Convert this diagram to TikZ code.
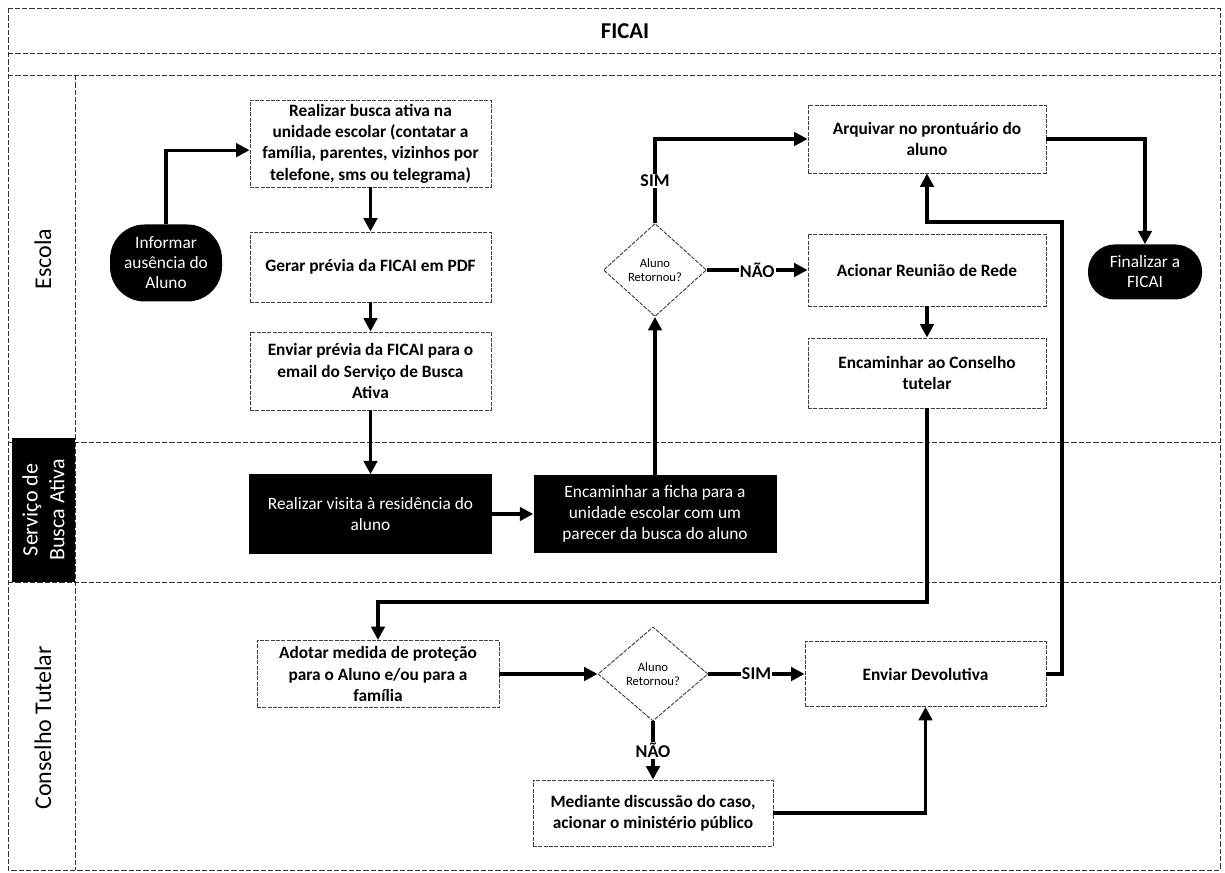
\documentclass[tikz,border=0pt]{standalone}
\usepackage{fontspec}
\setmainfont{Carlito}
\usetikzlibrary{shapes.geometric,arrows.meta,calc}
\begin{document}
\begin{tikzpicture}[x=0.75pt,y=-0.75pt,
  lane/.style={draw=black!80, line width=0.7pt, dash pattern=on 4pt off 1.5pt},
  box/.style={draw=black!75, line width=0.7pt, dash pattern=on 3pt off 1pt, fill=white, align=center, inner sep=0.5pt, font=\bfseries\fontsize{13}{16}\selectfont},
  blackbox/.style={fill=black, text=white, align=center, inner sep=1pt, font=\fontsize{13}{16}\selectfont},
  term/.style={rectangle, fill=black, text=white, align=center, inner sep=0pt, font=\fontsize{13}{15}\selectfont},
  decision/.style={diamond, draw=black!75, line width=0.7pt, dash pattern=on 3pt off 1pt, fill=white, align=center, inner sep=0pt, font=\fontsize{9.5}{11}\selectfont},
  flow/.style={line width=2.4pt, -{Triangle[length=10pt,width=10pt]}},
  lbl/.style={fill=white, inner sep=1pt, font=\bfseries\fontsize{13.5}{15}\selectfont},
  lanelabel/.style={rotate=90, align=center, font=\fontsize{18}{21}\selectfont}
]
\useasboundingbox (0,0) rectangle (1225,873);

% frame and lanes
\draw[lane] (8,8) rectangle (1220,870);
\draw[lane] (8,53) -- (1220,53);
\draw[lane] (8,75) -- (1220,75);
\draw[lane] (8,442) -- (1220,442);
\draw[lane] (8,582) -- (1220,582);
\draw[lane] (75,75) -- (75,870);

\node[font=\bfseries\fontsize{17}{20}\selectfont] (title) at (625,31) {FICAI};

% lane labels
\node[lanelabel] (lescola) at (43,259) {Escola};
\node[lanelabel, fill=black, text=white, minimum width=144*0.75pt, minimum height=63*0.75pt, inner sep=0pt, font=\fontsize{16.5}{20}\selectfont] (lservico) at (43.5,510) {Serviço de\\Busca Ativa};
\node[lanelabel] (lconselho) at (43,728) {Conselho Tutelar};

% Escola
\node[term, rounded corners=26pt, minimum width=112*0.75pt, minimum height=77*0.75pt] (inf) at (166,263) {Informar\\ausência do\\Aluno};
\node[box, minimum width=241*0.75pt, minimum height=87*0.75pt] (A) at (370.5,143.5) {Realizar busca ativa na\\unidade escolar (contatar a\\família, parentes, vizinhos por\\telefone, sms ou telegrama)};
\node[box, minimum width=241*0.75pt, minimum height=70*0.75pt] (B) at (370.5,267) {Gerar prévia da FICAI em PDF};
\node[box, minimum width=241*0.75pt, minimum height=78*0.75pt] (C) at (370.5,371) {Enviar prévia da FICAI para o\\email do Serviço de Busca\\Ativa};
\node[decision, minimum width=103*0.75pt, minimum height=93*0.75pt] (F) at (655,270) {Aluno\\Retornou?};
\node[box, minimum width=238*0.75pt, minimum height=68*0.75pt] (G) at (927,139) {Arquivar no prontuário do\\aluno};
\node[box, minimum width=238*0.75pt, minimum height=72*0.75pt] (H) at (927,270) {Acionar Reunião de Rede};
\node[box, minimum width=238*0.75pt, minimum height=70*0.75pt] (I) at (927,373) {Encaminhar ao Conselho\\tutelar};
\node[term, rounded corners=20pt, minimum width=114*0.75pt, minimum height=55*0.75pt] (fin) at (1145,272) {Finalizar a\\FICAI};

% Servico de Busca Ativa
\node[blackbox, minimum width=243*0.75pt, minimum height=79*0.75pt] (D) at (370.5,514) {Realizar visita à residência do\\aluno};
\node[blackbox, minimum width=243*0.75pt, minimum height=78*0.75pt] (E) at (655,514) {Encaminhar a ficha para a\\unidade escolar com um\\parecer da busca do aluno};

% Conselho Tutelar
\node[box, minimum width=242*0.75pt, minimum height=67*0.75pt] (J) at (378,674) {Adotar medida de proteção\\para o Aluno e/ou para a\\família};
\node[decision, minimum width=110*0.75pt, minimum height=94*0.75pt] (K) at (653,674) {Aluno\\Retornou?};
\node[box, minimum width=241*0.75pt, minimum height=65*0.75pt] (L) at (925.5,674) {Enviar Devolutiva};
\node[box, minimum width=240*0.75pt, minimum height=66*0.75pt] (M) at (653,813) {Mediante discussão do caso,\\acionar o ministério público};

% connectors
\coordinate (c1) at (925,602);
\coordinate (c2) at (1062,222);
\draw[flow] (inf.north) |- ([yshift=-5pt]A.west);
\draw[flow] (A.south) -- (B.north);
\draw[flow] (B.south) -- (C.north);
\draw[flow] (C.south) -- (D.north);
\draw[flow] (D.east) -- (E.west);
\draw[flow] (E.north) -- (F.south);
\draw[flow] (F.north) |- node[lbl, pos=0.25] {SIM} (G.west);
\draw[flow] (F.east) -- node[lbl] {NÃO} (H.west);
\draw[flow] (G.east) -| (fin.north);
\draw[flow] (H.south) -- (I.north);
\draw[flow] (I.south) -- (I.south |- c1) -| (J.north);
\draw[flow] (J.east) -- (K.west);
\draw[flow] (K.east) -- node[lbl] {SIM} (L.west);
\draw[flow] (K.south) -- node[lbl] {NÃO} (M.north);
\draw[flow] (M.east) -| (L.south);
\draw[flow] (L.east) -| (c2) -| (G.south);
\end{tikzpicture}
\end{document}
